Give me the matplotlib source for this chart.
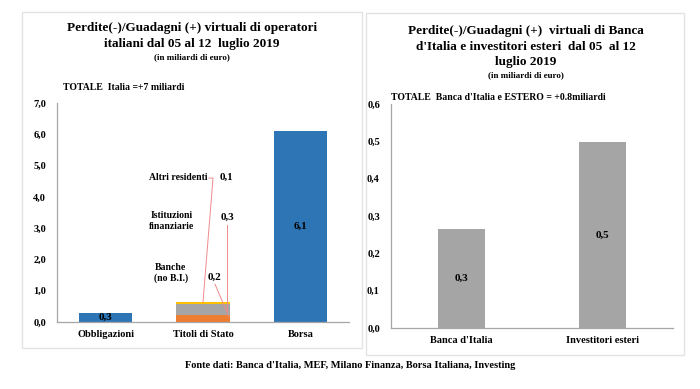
import matplotlib
matplotlib.use("Agg")
import matplotlib.pyplot as plt
from matplotlib.patches import Rectangle
from matplotlib.ticker import FuncFormatter

# ---- data ----
left_categories = ["Obbligazioni", "Titoli di Stato", "Borsa"]
obbligazioni = 0.28
borsa = 6.12
titoli_parts = ["Banche", "Istituzioni", "Altri"]
titoli_values = [0.22, 0.34, 0.07]
left_labels = ["0,3", "6,1"]
titoli_labels = ["0,2", "0,3", "0,1"]

right_categories = ["Banca d'Italia", "Investitori esteri"]
right_values = [0.265, 0.497]
right_labels = ["0,3", "0,5"]

W, H = 700, 389
fig = plt.figure(figsize=(W / 100, H / 100), dpi=100)
fig.patch.set_facecolor("white")
FONT = "Liberation Serif"
plt.rcParams["font.family"] = FONT
plt.rcParams["font.weight"] = "bold"

def fx(px):
    return px / W

def fy(py):
    return 1 - py / H

# panel frames
for (x0, y0, x1, y1) in [(22, 12, 362, 348), (366, 13, 684, 355)]:
    fig.patches.append(Rectangle((fx(x0), fy(y1)), fx(x1) - fx(x0), fy(y0) - fy(y1),
                                 transform=fig.transFigure, fill=False,
                                 edgecolor="#E3E3E3", linewidth=1.0))

BLUE = "#2E75B6"
ORANGE = "#ED7D31"
GRAY = "#A5A5A5"
YELLOW = "#FFC000"
comma = FuncFormatter(lambda v, p: f"{v:.1f}".replace(".", ","))

def style(ax):
    for s in ["top", "right"]:
        ax.spines[s].set_visible(False)
    for s in ["left", "bottom"]:
        ax.spines[s].set_color("#A6A6A6")
        ax.spines[s].set_linewidth(0.9)
    ax.tick_params(axis="both", length=0, labelsize=7.5)
    ax.tick_params(axis="y", pad=8)
    ax.tick_params(axis="x", pad=6)
    ax.yaxis.set_major_formatter(comma)
    for lab in ax.get_xticklabels() + ax.get_yticklabels():
        lab.set_fontweight("bold")

# ---- left axes ----
axL = fig.add_axes([fx(57), fy(322), fx(349) - fx(57), fy(103) - fy(322)])
bw = 0.55
xs = range(len(left_categories))
axL.bar(0, obbligazioni, width=bw, color=BLUE)
axL.bar(2, borsa, width=bw, color=BLUE)
bottom = 0
for v, c in zip(titoli_values, [ORANGE, GRAY, YELLOW]):
    axL.bar(1, v, width=bw, bottom=bottom, color=c)
    bottom += v
axL.set_xlim(-0.5, 2.5)
axL.set_ylim(0, 7)
axL.set_yticks([i for i in range(8)])
axL.set_xticks(list(xs))
axL.set_xticklabels(left_categories)
style(axL)
axL.text(0, obbligazioni / 2, left_labels[0], ha="center", va="center", fontsize=8, fontweight="bold")
axL.text(2, borsa / 2, left_labels[1], ha="center", va="center", fontsize=8, fontweight="bold")

# annotations for Titoli di Stato
LC = "#F08A8A"
axL.text(1.05, 4.63, "Altri residenti", ha="right", va="center", fontsize=7, fontweight="bold")
axL.text(1.236, 4.63, titoli_labels[2], ha="center", va="center", fontsize=8, fontweight="bold")
axL.plot([1.062, 1.103, 1.0], [4.60, 4.60, 0.64], color=LC, lw=0.7)
axL.text(0.68, 3.23, "Istituzioni\nfinanziarie", ha="center", va="center", fontsize=7,
         fontweight="bold", linespacing=1.25)
axL.text(1.247, 3.36, titoli_labels[1], ha="center", va="center", fontsize=8, fontweight="bold")
axL.plot([1.247, 1.247], [3.10, 0.35], color=LC, lw=0.7)
axL.text(0.67, 1.57, "Banche\n(no B.I.)", ha="center", va="center", fontsize=7,
         fontweight="bold", linespacing=1.25)
axL.text(1.123, 1.44, titoli_labels[0], ha="center", va="center", fontsize=8, fontweight="bold")
axL.plot([1.123, 1.267], [1.21, 0.16], color=LC, lw=0.7)

fig.text(fx(192), fy(28), "Perdite(-)/Guadagni (+) virtuali di operatori", ha="center", va="center",
         fontsize=9.5, fontweight="bold")
fig.text(fx(192), fy(44), "italiani dal 05 al 12  luglio 2019", ha="center", va="center",
         fontsize=9.5, fontweight="bold")
fig.text(fx(192), fy(57), "(in miliardi di euro)", ha="center", va="center",
         fontsize=6.5, fontweight="bold")
fig.text(fx(63), fy(88), "TOTALE  Italia =+7 miliardi", ha="left", va="center",
         fontsize=7, fontweight="bold")

# ---- right axes ----
axR = fig.add_axes([fx(391), fy(328), fx(673) - fx(391), fy(104) - fy(328)])
axR.bar(range(len(right_categories)), right_values, width=0.33, color=GRAY)
axR.set_xlim(-0.5, 1.5)
axR.set_ylim(0, 0.6)
axR.set_yticks([i / 10 for i in range(7)])
axR.set_xticks(range(len(right_categories)))
axR.set_xticklabels(right_categories)
style(axR)
for i, (v, l) in enumerate(zip(right_values, right_labels)):
    axR.text(i, v / 2, l, ha="center", va="center", fontsize=8, fontweight="bold")

rt = ["Perdite(-)/Guadagni (+)  virtuali di Banca", "d'Italia e investitori esteri  dal 05  al 12", "luglio 2019"]
for t, py in zip(rt, [31, 47, 62]):
    fig.text(fx(526), fy(py), t, ha="center", va="center", fontsize=9.5, fontweight="bold")
fig.text(fx(526), fy(75), "(in miliardi di euro)", ha="center", va="center",
         fontsize=6.5, fontweight="bold")
fig.text(fx(391), fy(97), "TOTALE  Banca d'Italia e ESTERO = +0.8miliardi", ha="left", va="center",
         fontsize=7, fontweight="bold")

fig.text(fx(350), fy(366), "Fonte dati: Banca d'Italia, MEF, Milano Finanza, Borsa Italiana, Investing",
         ha="center", va="center", fontsize=7.5, fontweight="bold")

fig.savefig("out.png", dpi=100, facecolor="white")
